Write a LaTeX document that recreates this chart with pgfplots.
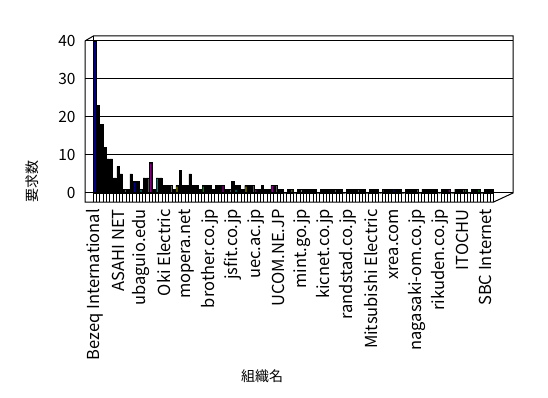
\documentclass[border=0pt]{standalone}
\usepackage{pgfplots}
\pgfplotsset{compat=1.18}
\usepackage{fontspec}
\setmainfont{Noto Sans CJK JP}
\definecolor{navyx}{HTML}{000080}
\definecolor{purplex}{HTML}{800080}
\definecolor{tealx}{HTML}{008080}
\definecolor{olivex}{HTML}{808000}
\definecolor{greenx}{HTML}{008000}
\definecolor{redx}{HTML}{800000}
\begin{document}
\begin{tikzpicture}[x=1pt,y=1pt]
\useasboundingbox (0,0) rectangle (548,398);
\begin{axis}[
  at={(85pt,205pt)}, anchor=south west,
  scale only axis, width=428pt, height=157pt,
  xmin=-3.05, xmax=127.4, ymin=0, ymax=41.3,
  clip=false,
  axis line style={draw=none},
  ytick={0,10,20,30,40},
  ymajorgrids, grid style={black, line width=1pt},
  ytick style={draw=none},
  yticklabel style={xshift=-6pt},
  xtick={0,7,...,119},
  xticklabels={Bezeq International,ASAHI NET,ubaguio.edu,Oki Electric,mopera.net,brother.co.jp,jsfit.co.jp,uec.ac.jp,UCOM.NE.JP,mint.go.jp,kicnet.co.jp,randstad.co.jp,Mitsubishi Electric,xrea.com,nagasaki-om.co.jp,rikuden.co.jp,ITOCHU,SBC Internet},
  xticklabel style={rotate=90, anchor=east, inner sep=0pt, xshift=-16pt, font=\fontsize{16.5}{19}\selectfont},
  xtick style={draw=none},
  yticklabel style={font=\fontsize{15.5}{18}\selectfont},
  /pgf/number format/assume math mode=true,
]
\addplot[ybar, bar width=2.4pt, bar shift=0pt, fill=black, draw=black, line width=0.3pt] coordinates {
(0,40)(1,23)(2,18)(3,12)(4,9)(5,9)(6,4)(7,7)(8,5)(9,1)(10,1)(11,5)(12,3)(13,3)(14,1)(15,4)(16,4)(17,8)(18,1)(19,4)
(20,4)(21,2)(22,2)(23,2)(24,1)(25,2)(26,6)(27,2)(28,2)(29,5)(30,2)(31,2)(32,1)(33,2)(34,2)(35,2)(36,1)(37,2)(38,2)(39,2)
(40,1)(41,1)(42,3)(43,2)(44,2)(45,1)(46,2)(47,2)(48,2)(49,1)(50,1)(51,2)(52,1)(53,1)(54,2)(55,2)(56,1)(57,1)(58,0)(59,1)
(60,1)(61,0)(62,1)(63,1)(64,1)(65,1)(66,1)(67,1)(68,0)(69,1)(70,1)(71,1)(72,1)(73,1)(74,1)(75,1)(76,0)(77,1)(78,1)(79,1)
(80,1)(81,1)(82,1)(83,0)(84,1)(85,1)(86,1)(87,0)(88,1)(89,1)(90,1)(91,1)(92,1)(93,1)(94,0)(95,1)(96,1)(97,1)(98,1)(99,0)
(100,1)(101,1)(102,1)(103,1)(104,1)(105,0)(106,1)(107,1)(108,1)(109,0)(110,1)(111,1)(112,1)(113,1)(114,0)(115,1)(116,1)(117,1)(118,0)(119,1)
(120,1)(121,1)};
\addplot[ybar, bar width=1.6pt, bar shift=0pt, fill=navyx, draw=none] coordinates {(0,39.7)(12,2.7)(91,0.8)};
\addplot[ybar, bar width=1.4pt, bar shift=0pt, fill=purplex, draw=none] coordinates {(17,7.7)(39,1.8)(54,1.8)(49,0.8)(108,0.8)};
\addplot[ybar, bar width=1.2pt, bar shift=0pt, fill=tealx, draw=none] coordinates {(14,0.8)(19,3.7)(43,0.8)};
\addplot[ybar, bar width=1.2pt, bar shift=0pt, fill=olivex, draw=none] coordinates {(25,1.7)(46,1.7)(60,0.8)};
\addplot[ybar, bar width=1.2pt, bar shift=0pt, fill=greenx, draw=none] coordinates {(33,1.7)(113,0.8)(117,0.8)};
\addplot[ybar, bar width=1.2pt, bar shift=0pt, fill=redx, draw=none] coordinates {(88,0.8)};
\addplot[ybar, bar width=1.2pt, bar shift=0pt, fill=gray, draw=none] coordinates {(63,0.8)};
% floor, ticks and frame
\pgfplotsinvokeforeach{-0.5,0.5,...,121.5}{
  \draw[black, line width=1pt] (axis cs:#1,0) -- (axis cs:#1,-2.37);
}
\draw[black, line width=1pt] (axis cs:-0.5,0) -- (axis cs:121.5,0);
\draw[black, line width=1pt] (axis cs:-3.05,-2.37) -- (axis cs:121.5,-2.37) -- (axis cs:127.4,0) -- (axis cs:127.4,41.3) -- (axis cs:-0.5,41.3) -- (axis cs:-3.05,40) -- cycle;
\draw[black, line width=1pt] (axis cs:-0.5,0) -- (axis cs:-0.5,41.3);
\end{axis}
\node[rotate=90, font=\fontsize{14}{16}\selectfont] at (32,216) {要求数};
\node[font=\fontsize{14}{16}\selectfont] at (262,22) {組織名};
\end{tikzpicture}
\end{document}
